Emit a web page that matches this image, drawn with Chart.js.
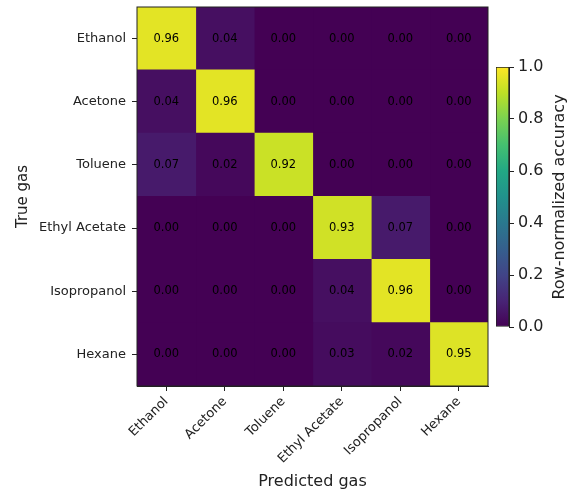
<!DOCTYPE html>
<html>
<head>
<meta charset="utf-8">
<script src="https://cdn.jsdelivr.net/npm/chart.js@4.4.1/dist/chart.umd.min.js"></script>
<style>
    html, body { margin: 0; padding: 0; background: #fff; }
    #wrap { position: relative; width: 575px; height: 495px; }
    #heat { position: absolute; left: 0; top: 0; }
    #cbar { position: absolute; left: 480px; top: 50px; }
</style>
</head>
<body>
<div id="wrap">
    <canvas id="heat" width="575" height="495"></canvas>
    <canvas id="cbar" width="95" height="295"></canvas>
</div>
<script>

const trueLabels = ["Ethanol", "Acetone", "Toluene", "Ethyl Acetate", "Isopropanol", "Hexane"];
const predLabels = ["Ethanol", "Acetone", "Toluene", "Ethyl Acetate", "Isopropanol", "Hexane"];

const ethanolRow     = [0.96, 0.04, 0.00, 0.00, 0.00, 0.00];
const acetoneRow     = [0.04, 0.96, 0.00, 0.00, 0.00, 0.00];
const tolueneRow     = [0.07, 0.02, 0.92, 0.00, 0.00, 0.00];
const ethylAcetRow   = [0.00, 0.00, 0.00, 0.93, 0.07, 0.00];
const isopropanolRow = [0.00, 0.00, 0.00, 0.04, 0.96, 0.00];
const hexaneRow      = [0.00, 0.00, 0.00, 0.03, 0.02, 0.95];

const cbMin = 0;
const cbMax = 1;
const cbStep = 0.2;

const matrix = [ethanolRow, acetoneRow, tolueneRow, ethylAcetRow, isopropanolRow, hexaneRow];

const FONT = "'DejaVu Sans', sans-serif";

// viridis, sampled every 0.1
const viridisStops = [
    "#440154", "#482475", "#414487", "#355f8d", "#2a788e", "#21918c",
    "#22a884", "#44bf70", "#7ad151", "#bddf26", "#fde725"
];

function hexToRgb(h) {
    return [parseInt(h.slice(1, 3), 16), parseInt(h.slice(3, 5), 16), parseInt(h.slice(5, 7), 16)];
}

function viridis(v) {
    const t = Math.min(Math.max((v - cbMin) / (cbMax - cbMin), 0), 1) * (viridisStops.length - 1);
    const i = Math.min(Math.floor(t), viridisStops.length - 2);
    const f = t - i;
    const a = hexToRgb(viridisStops[i]);
    const b = hexToRgb(viridisStops[i + 1]);
    const c = a.map((x, k) => Math.round(x + (b[k] - x) * f));
    return "rgb(" + c.join(",") + ")";
}

const cellLabels = {
    id: "cellLabels",
    afterDatasetsDraw(chart) {
        const ctx = chart.ctx;
        ctx.save();
        ctx.font = "11.5px " + FONT;
        ctx.fillStyle = "#000";
        ctx.textAlign = "center";
        ctx.textBaseline = "middle";
        chart.data.datasets.forEach((ds, j) => {
            chart.getDatasetMeta(j).data.forEach((bar, i) => {
                const cx = (bar.x + bar.base) / 2;
                ctx.fillText(matrix[i][j].toFixed(2), cx, bar.y);
            });
        });
        const a = chart.chartArea;
        ctx.strokeStyle = "#222";
        ctx.lineWidth = 1;
        ctx.strokeRect(a.left, a.top, a.right - a.left, a.bottom - a.top);
        ctx.restore();
    }
};

const whiteBg = {
    id: "whiteBg",
    beforeDraw(chart) {
        const ctx = chart.ctx;
        ctx.save();
        ctx.fillStyle = "#fff";
        ctx.fillRect(0, 0, chart.width, chart.height);
        ctx.restore();
    }
};

function renderHeatmap() {

    const datasets = predLabels.map((p, j) => ({
        label: p,
        data: trueLabels.map(() => 1),
        backgroundColor: matrix.map(row => viridis(row[j])),
        borderWidth: 0,
        inflateAmount: 0.6,
        barPercentage: 1,
        categoryPercentage: 1
    }));

    new Chart(document.getElementById("heat"), {
        type: "bar",
        data: { labels: trueLabels, datasets: datasets },
        options: {
            indexAxis: "y",
            responsive: false,
            animation: false,
            layout: { padding: { left: 10, top: 7, right: 87, bottom: 0 } },
            plugins: { legend: { display: false }, tooltip: { enabled: false } },
            scales: {
                x: {
                    type: "linear",
                    stacked: true,
                    min: 0,
                    max: predLabels.length,
                    afterBuildTicks: s => { s.ticks = predLabels.map((_, i) => ({ value: i + 0.5 })); },
                    afterFit: s => { s.height = 109; s.paddingLeft = 0; s.paddingRight = 0; },
                    ticks: {
                        autoSkip: false,
                        minRotation: 45,
                        maxRotation: 45,
                        padding: 3,
                        color: "#222",
                        font: { family: FONT, size: 13 },
                        callback: (v, i) => predLabels[i]
                    },
                    grid: { drawOnChartArea: false, tickLength: 5, color: "#222", offset: false },
                    border: { display: true, color: "#222" },
                    title: {
                        display: true,
                        text: "Predicted gas",
                        color: "#222",
                        font: { family: FONT, size: 16 },
                        padding: { top: 4, bottom: 4 }
                    }
                },
                y: {
                    stacked: true,
                    afterFit: s => { s.width = 127; s.paddingTop = 0; s.paddingBottom = 0; },
                    ticks: {
                        padding: 6,
                        color: "#222",
                        font: { family: FONT, size: 13 }
                    },
                    grid: { drawOnChartArea: false, tickLength: 5, color: "#222", offset: false },
                    border: { display: true, color: "#222" },
                    title: {
                        display: true,
                        text: "True gas",
                        color: "#222",
                        font: { family: FONT, size: 15 },
                        padding: { top: 4, bottom: 4 }
                    }
                }
            }
        },
        plugins: [whiteBg, cellLabels]
    });
}

const cbLabel = {
    id: "cbLabel",
    afterDraw(chart) {
        const ctx = chart.ctx;
        ctx.save();
        ctx.translate(80, chart.chartArea.top + (chart.chartArea.bottom - chart.chartArea.top) / 2);
        ctx.rotate(-Math.PI / 2);
        ctx.font = "16px " + FONT;
        ctx.fillStyle = "#222";
        ctx.textAlign = "center";
        ctx.textBaseline = "middle";
        ctx.fillText("Row-normalized accuracy", 0, 0);
        ctx.restore();
    }
};

function renderColorbar() {

    new Chart(document.getElementById("cbar"), {
        type: "bar",
        data: {
            labels: [""],
            datasets: [{
                data: [[cbMin, cbMax]],
                backgroundColor: ctx => {
                    const a = ctx.chart.chartArea;
                    if (!a) return viridisStops[0];
                    const g = ctx.chart.ctx.createLinearGradient(0, a.bottom, 0, a.top);
                    viridisStops.forEach((c, i) => g.addColorStop(i / (viridisStops.length - 1), c));
                    return g;
                },
                borderColor: "#222",
                borderWidth: 1,
                borderSkipped: false,
                barPercentage: 1,
                categoryPercentage: 1
            }]
        },
        options: {
            responsive: false,
            animation: false,
            layout: { padding: { left: 16, top: 17, right: 0, bottom: 18 } },
            plugins: { legend: { display: false }, tooltip: { enabled: false } },
            scales: {
                x: { display: false },
                y: {
                    position: "right",
                    min: cbMin,
                    max: cbMax,
                    afterFit: s => { s.width = 66; s.paddingTop = 0; s.paddingBottom = 0; },
                    ticks: {
                        stepSize: cbStep,
                        padding: 4,
                        color: "#222",
                        font: { family: FONT, size: 16 },
                        callback: v => v.toFixed(1)
                    },
                    grid: { drawOnChartArea: false, tickLength: 5, color: "#222" },
                    border: { display: true, color: "#222" }
                }
            }
        },
        plugins: [cbLabel]
    });
}

renderHeatmap();
renderColorbar();

</script>
</body>
</html>
